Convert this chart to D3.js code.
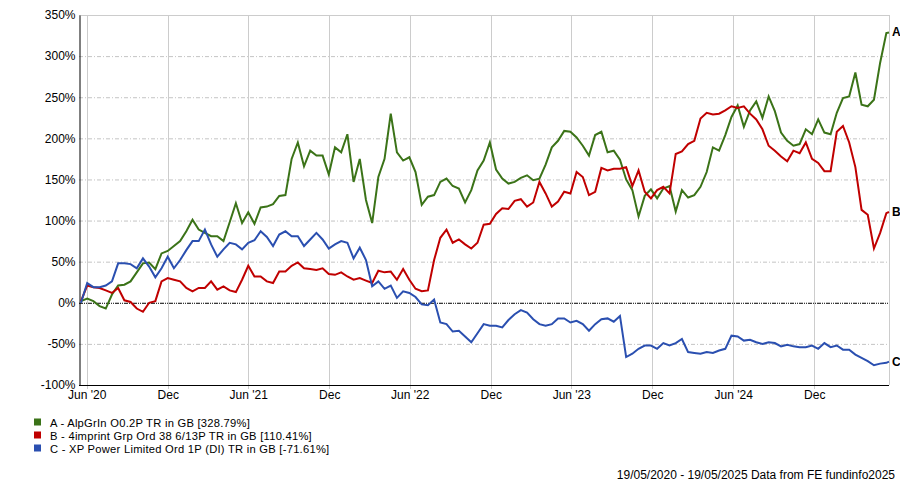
<!DOCTYPE html>
<html><head><meta charset="utf-8">
<script src="https://cdn.jsdelivr.net/npm/d3@7/dist/d3.min.js"></script>
<style>
html,body{margin:0;padding:0;background:#fff;}
svg text{font-family:"Liberation Sans",Arial,sans-serif;}
</style></head>
<body>
<svg id="chart" width="900" height="484"></svg>
<script>
// ---- data ----
const startDate = "2020-05-19";
const endDate = "2025-05-19";
const sampleStepDays = 14;

const seriesNames = ["A - AlpGrIn O0.2P TR in GB [328.79%]",
                     "B - 4imprint Grp Ord 38 6/13P TR in GB [110.41%]",
                     "C - XP Power Limited Ord 1P (DI) TR in GB [-71.61%]"];
const seriesTags = ["A","B","C"];

const valuesA = [2,5,2,-4,-7,10,21,22,26,37,48,49,41,60,63,69,75,87,101,89,85,81,81,
  75,98,121,97,110,96,116,117,120,130,131,175,195,166,185,179,179,156,189,183,205,147,
  175,125,97,153,175,230,183,173,177,159,119,129,131,147,151,142,139,122,137,161,173,195,
  162,151,145,147,152,155,149,151,168,189,197,209,208,201,191,179,204,208,183,185,174,150,
  137,105,130,138,127,139,142,111,137,128,131,141,159,189,185,204,226,240,214,234,245,
  225,251,233,207,197,191,193,211,205,223,207,205,231,249,251,280,241,239,247,292,328,328.79];

const valuesB = [2,21,19,18,15,12,18,3,1,-7,-11,0,2,26,30,28,26,18,14,18,18,26,16,
  20,15,13,28,45,32,32,26,24,38,38,45,49,42,41,40,42,35,34,37,32,28,
  30,27,24,39,37,38,28,41,28,17,14,15,52,79,89,73,77,71,66,73,95,96,
  108,115,114,124,126,117,122,147,133,117,123,135,133,159,153,131,135,164,161,163,163,165,
  142,161,135,127,137,141,133,181,184,193,197,224,231,229,230,234,239,237,239,230,223,
  211,191,185,178,172,185,182,195,175,170,160,160,208,215,195,165,113,107,66,85,109,110.41];

const valuesC = [0,24,19,19,21,26,48,48,47,42,54,44,31,42,56,42,52,64,75,75,89,71,56,
  65,73,71,65,73,76,87,80,69,83,87,81,81,69,77,85,77,66,71,75,73,54,
  67,52,20,26,17,21,6,14,12,7,-2,-3,4,-24,-26,-35,-34,-41,-48,-37,-26,-28,
  -28,-30,-21,-14,-9,-12,-20,-26,-28,-26,-19,-19,-24,-22,-26,-34,-26,-20,-19,-23,-16,-66,
  -62,-56,-52,-52,-56,-49,-52,-49,-44,-60,-61,-62,-60,-61,-58,-56,-40,-41,-46,-45,-48,
  -50,-48,-49,-53,-51,-53,-54,-54,-52,-56,-49,-54,-52,-57,-57,-63,-67,-71,-76,-74,-73,-71.61];

const seriesColors = ["#3b7318","#c00000","#2a4fb0"];

const yTicks = [-100,-50,0,50,100,150,200,250,300,350];
const xTickDates = ["2020-06-01","2020-12-01","2021-06-01","2021-12-01","2022-06-01",
                    "2022-12-01","2023-06-01","2023-12-01","2024-06-01","2024-12-01"];
const xTickLabels = ["Jun '20","Dec","Jun '21","Dec","Jun '22","Dec","Jun '23","Dec","Jun '24","Dec"];
const footerText = "19/05/2020 - 19/05/2025 Data from FE fundinfo2025";

// ---- build ----
const parse = d3.utcParse("%Y-%m-%d");
const d0 = parse(startDate), d1 = parse(endDate);
const allSeries = [valuesA, valuesB, valuesC];
function datesFor(n){
  const out = [];
  for(let i=0;i<n-1;i++) out.push(d3.utcDay.offset(d0, i*sampleStepDays));
  out.push(d1);
  return out;
}

const svg = d3.select("#chart");
const L=79, R=889, T=15, B=385;
const FS = "12px";
const x = d3.scaleUtc().domain([d0,d1]).range([81,R]);
const y = d3.scaleLinear().domain([-100,350]).range([B,T]);

// horizontal grid
svg.append("g").selectAll("line").data(yTicks.filter(v=>v!==0 && v!==-100 && v!==350)).join("line")
  .attr("x1",L).attr("x2",R).attr("y1",d=>y(d)+0.5).attr("y2",d=>y(d)+0.5)
  .attr("stroke","#c4c4c4").attr("stroke-width",1).attr("stroke-dasharray","4,2,1,2");

// vertical grid
const xt = xTickDates.map(parse);
svg.append("g").selectAll("line").data(xt).join("line")
  .attr("x1",d=>Math.round(x(d))+0.5).attr("x2",d=>Math.round(x(d))+0.5)
  .attr("y1",T).attr("y2",B+4)
  .attr("stroke","#cccccc").attr("stroke-width",1);

// frame top/right
svg.append("line").attr("x1",L).attr("x2",R+0.5).attr("y1",T+0.5).attr("y2",T+0.5).attr("stroke","#cccccc");
svg.append("line").attr("x1",R+0.5).attr("x2",R+0.5).attr("y1",T).attr("y2",B).attr("stroke","#cccccc");

// zero line
svg.append("line").attr("x1",L).attr("x2",R).attr("y1",y(0)+0.5).attr("y2",y(0)+0.5)
  .attr("stroke","#000").attr("stroke-width",1).attr("stroke-dasharray","4,1,1,1,1,1");

// axes
const yAxis = d3.axisLeft(y).tickValues(yTicks).tickSize(0).tickPadding(4).tickFormat(d=>d+"%");
const gy = svg.append("g").attr("transform",`translate(${L+0.5},0)`).call(yAxis);
gy.select(".domain").attr("stroke","#000");
gy.selectAll("text").attr("font-size",FS).attr("fill","#000");

const xAxis = d3.axisBottom(x).tickValues(xt).tickSize(0).tickPadding(5).tickFormat((d,i)=>xTickLabels[i]);
const gx = svg.append("g").attr("transform",`translate(0,${B+0.5})`).call(xAxis);
gx.select(".domain").attr("stroke","#000").attr("d",`M${L},0H${R}`);
gx.selectAll("text").attr("font-size",FS).attr("fill","#000");

// lines
const line = d3.line().x(d=>x(d[0])).y(d=>y(d[1]));
allSeries.forEach((vals,si)=>{
  const ds = datesFor(vals.length);
  const pts = vals.map((v,i)=>[ds[i],v]);
  svg.append("path").datum(pts).attr("d",line).attr("fill","none")
    .attr("stroke",seriesColors[si]).attr("stroke-width",2).attr("stroke-linejoin","miter");
  const last = pts[pts.length-1];
  svg.append("text").attr("x",892).attr("y",y(last[1])+4).attr("font-size",FS)
    .attr("font-weight","bold").attr("fill","#000").text(seriesTags[si]);
});

// legend
const lg = svg.append("g");
seriesNames.forEach((n,i)=>{
  lg.append("rect").attr("x",34).attr("y",418.5+i*13).attr("width",7).attr("height",7).attr("fill",seriesColors[i]);
  lg.append("text").attr("x",50).attr("y",426.5+i*13).attr("font-size","11.2px")
    .attr("letter-spacing","0.25px").attr("fill","#000").text(n);
});

// footer
svg.append("text").attr("x",895).attr("y",479).attr("text-anchor","end").attr("font-size",FS)
  .attr("fill","#000").text(footerText);
</script>
</body></html>
